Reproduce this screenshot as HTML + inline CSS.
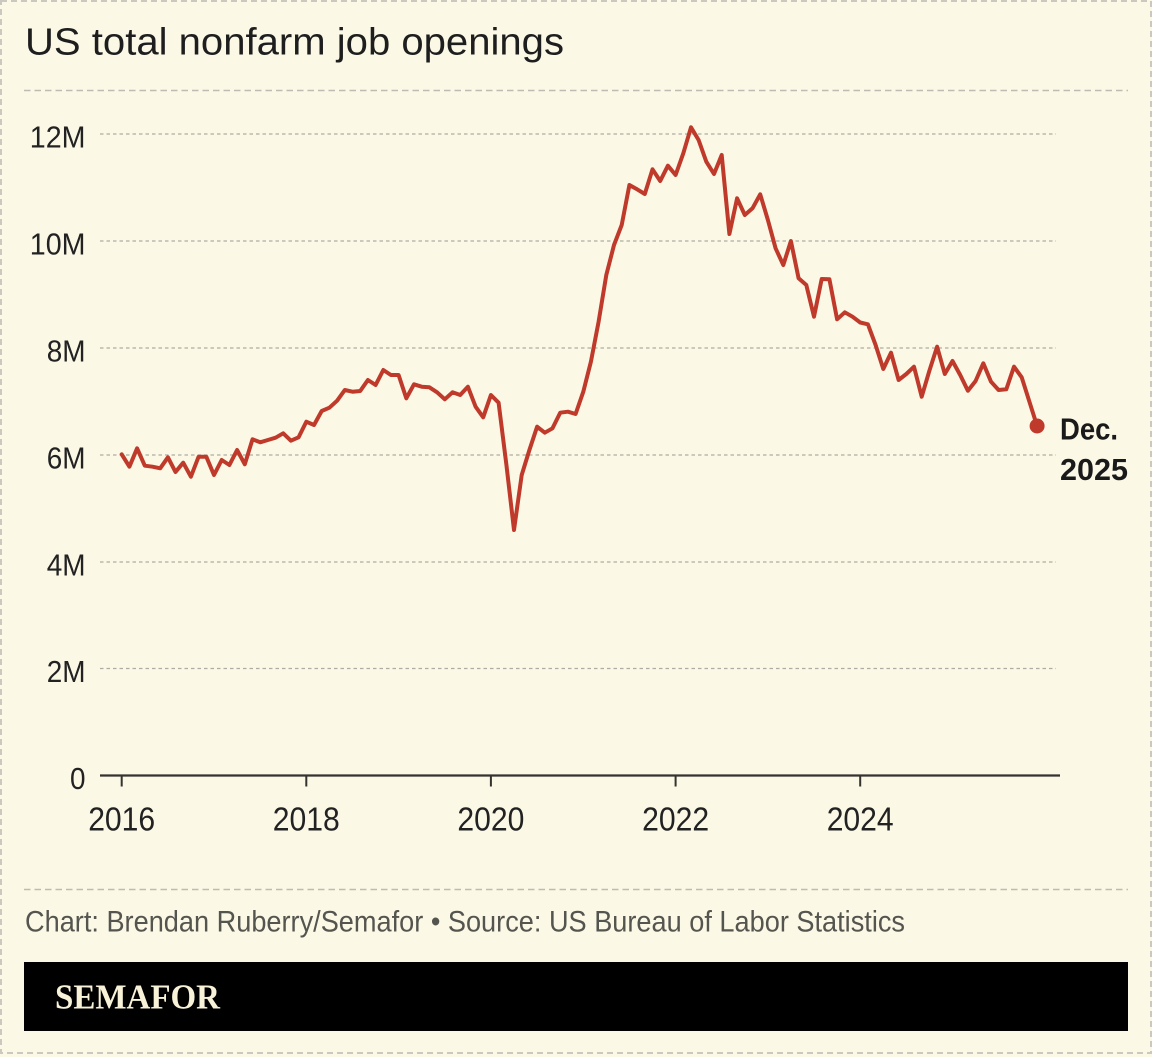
<!DOCTYPE html>
<html>
<head>
<meta charset="utf-8">
<style>
html,body{margin:0;padding:0;background:#FBF8E6;}
svg{display:block;}
</style>
</head>
<body>
<svg width="1152" height="1057" viewBox="0 0 1152 1057" xmlns="http://www.w3.org/2000/svg">
<rect x="0" y="0" width="1152" height="1057" fill="#FBF8E6"/>
<rect x="1" y="1" width="1150" height="1052" fill="none" stroke="#cbc9bf" stroke-width="2" stroke-dasharray="6 4"/>

<text x="25" y="54.3" font-family="Liberation Sans, sans-serif" font-size="38" fill="#1e1e1e" textLength="539" lengthAdjust="spacingAndGlyphs">US total nonfarm job openings</text>

<line x1="24" y1="90.5" x2="1128" y2="90.5" stroke="#bdbbb2" stroke-width="1.6" stroke-dasharray="6.5 4"/>

<g stroke="#aeaca4" stroke-width="1.3" stroke-dasharray="3.5 3">
<line x1="100" y1="134" x2="1056" y2="134"/>
<line x1="100" y1="241" x2="1056" y2="241"/>
<line x1="100" y1="348" x2="1056" y2="348"/>
<line x1="100" y1="455" x2="1056" y2="455"/>
<line x1="100" y1="562" x2="1056" y2="562"/>
<line x1="100" y1="668.5" x2="1056" y2="668.5"/>
</g>

<g font-family="Liberation Sans, sans-serif" font-size="31" fill="#222" text-anchor="end">
<text x="85.5" y="147.7" textLength="55.7" lengthAdjust="spacingAndGlyphs">12M</text>
<text x="85.5" y="254.7" textLength="55.7" lengthAdjust="spacingAndGlyphs">10M</text>
<text x="85.5" y="361.7" textLength="38.8" lengthAdjust="spacingAndGlyphs">8M</text>
<text x="85.5" y="468.7" textLength="38.8" lengthAdjust="spacingAndGlyphs">6M</text>
<text x="85.5" y="575.7" textLength="38.8" lengthAdjust="spacingAndGlyphs">4M</text>
<text x="85.5" y="682.2" textLength="38.8" lengthAdjust="spacingAndGlyphs">2M</text>
<text x="85.5" y="789" textLength="15.5" lengthAdjust="spacingAndGlyphs">0</text>
</g>

<line x1="100" y1="775.5" x2="1060" y2="775.5" stroke="#333330" stroke-width="2.2"/>
<g stroke="#333330" stroke-width="2">
<line x1="121.7" y1="775" x2="121.7" y2="786.5"/>
<line x1="306.3" y1="775" x2="306.3" y2="786.5"/>
<line x1="490.9" y1="775" x2="490.9" y2="786.5"/>
<line x1="675.6" y1="775" x2="675.6" y2="786.5"/>
<line x1="860.2" y1="775" x2="860.2" y2="786.5"/>
</g>
<g font-family="Liberation Sans, sans-serif" font-size="33" fill="#222" text-anchor="middle">
<text x="121.7" y="830.7" textLength="67" lengthAdjust="spacingAndGlyphs">2016</text>
<text x="306.3" y="830.7" textLength="67" lengthAdjust="spacingAndGlyphs">2018</text>
<text x="490.9" y="830.7" textLength="67" lengthAdjust="spacingAndGlyphs">2020</text>
<text x="675.6" y="830.7" textLength="67" lengthAdjust="spacingAndGlyphs">2022</text>
<text x="860.2" y="830.7" textLength="67" lengthAdjust="spacingAndGlyphs">2024</text>
</g>

<polyline fill="none" stroke="#bf3a2b" stroke-width="4" stroke-linejoin="round" stroke-linecap="round" points="
121.7,454.3 129.4,466.7 137.1,448.3 144.8,465.7 152.5,466.7 160.2,468.3 167.9,457.3 175.5,472 183.2,462.7 190.9,476.7 198.6,456.7 206.3,456.7
214.0,475 221.7,460 229.4,465 237.1,450 244.8,464.3 252.5,439.3 260.2,442.3 267.9,440 275.6,437.7 283.2,433.3 290.9,440.7 298.6,437.3
306.3,421.7 314.0,425 321.7,411 329.4,407.7 337.1,400.7 344.8,390 352.5,391.7 360.2,391 367.9,380 375.6,385 383.3,370 390.9,375
398.6,375 406.3,398.3 414.0,384.3 421.7,386.7 429.4,387.3 437.1,392.3 444.8,399.3 452.5,392.3 460.2,395 467.9,386.7 475.6,406.7 483.2,417.3
490.9,395 498.6,402.7 506.3,464 514.0,530 521.7,475 529.4,450 537.1,426.7 544.8,432.7 552.5,428.3 560.2,412.7 567.9,411.7 575.6,414
583.3,391.7 590.9,361.7 598.6,321.7 606.3,275 614.0,245 621.7,225 629.4,185 637.1,189.3 644.8,194 652.5,169.3 660.2,181 667.9,165.7
675.6,175 683.3,153.3 691.0,127.3 698.6,140 706.3,161.7 714.0,174 721.7,155 729.4,234 737.1,198.3 744.8,215 752.5,208.3 760.2,194.3
767.9,220 775.6,248.3 783.3,265 790.9,241 798.6,278.3 806.3,285 814.0,316.7 821.7,279 829.4,279.3 837.1,319.3 844.8,312.3 852.5,316.7
860.2,322.5 867.9,324.3 875.6,345 883.3,369 891.0,352.7 898.6,380 906.3,374 914.0,366.7 921.7,396.7 929.4,370.7 937.1,346.7 944.8,374
952.5,361 960.2,375 967.9,390.7 975.6,381 983.3,363.3 991.0,381.7 998.6,390 1006.3,389.3 1014.0,366.7 1021.7,377.3 1029.4,401.7 1037.1,426"/>
<circle cx="1037.1" cy="426" r="7.5" fill="#bf3a2b"/>

<g font-family="Liberation Sans, sans-serif" font-size="31" font-weight="bold" fill="#1a1a1a">
<text x="1060" y="439.3" textLength="58" lengthAdjust="spacingAndGlyphs">Dec.</text>
<text x="1060" y="480" textLength="68" lengthAdjust="spacingAndGlyphs">2025</text>
</g>

<line x1="24" y1="889.5" x2="1128" y2="889.5" stroke="#bdbbb2" stroke-width="1.6" stroke-dasharray="6.5 4"/>

<text x="25" y="931.7" font-family="Liberation Sans, sans-serif" font-size="29.5" fill="#55554f" textLength="880" lengthAdjust="spacingAndGlyphs">Chart: Brendan Ruberry/Semafor • Source: US Bureau of Labor Statistics</text>

<rect x="24" y="962" width="1104" height="69" fill="#000"/>
<text x="55" y="1008.3" font-family="Liberation Serif, serif" font-size="35" font-weight="bold" fill="#f8f2d8" textLength="165" lengthAdjust="spacingAndGlyphs">SEMAFOR</text>
</svg>
</body>
</html>
